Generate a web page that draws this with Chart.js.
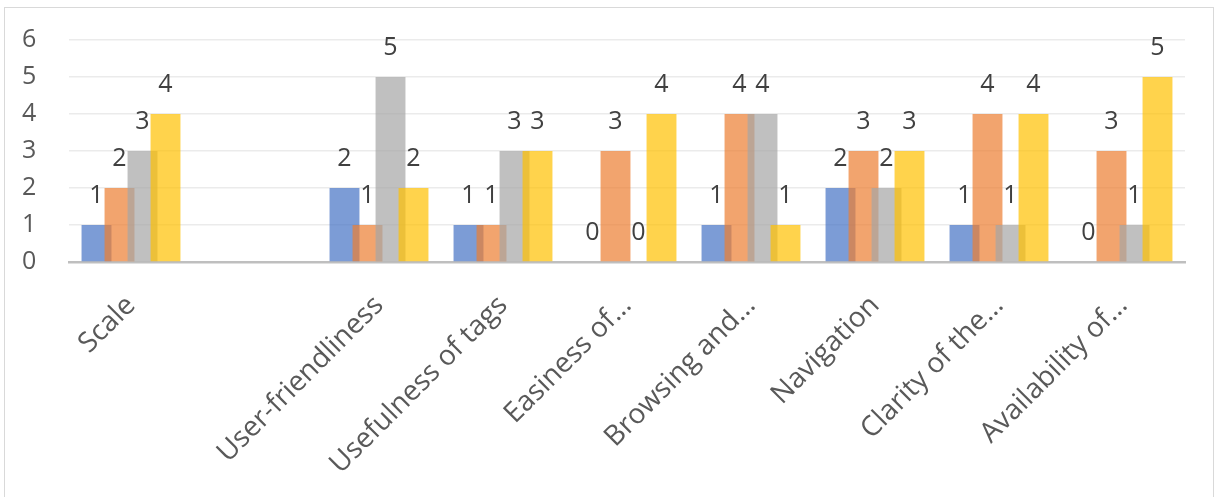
<!DOCTYPE html>
<html>
<head>
<meta charset="utf-8">
<script src="https://cdn.jsdelivr.net/npm/chart.js@4.4.1/dist/chart.umd.min.js"></script>
<style>
    html, body { margin: 0; padding: 0; background: #fff; }
    #wrap { position: relative; width: 1221px; height: 497px; overflow: hidden; }
    #frame { position: absolute; left: 4px; top: 7px; width: 1208px; height: 530px; border: 1.5px solid #d9d9d9; }
    #chartBox { position: absolute; left: 0; top: 0; width: 1221px; height: 497px; }
</style>
</head>
<body>
<div id="wrap">
    <div id="frame"></div>
    <div id="chartBox"><canvas id="barChart"></canvas></div>
</div>
<script>
const categories = ['Scale', '', 'User-friendliness', 'Usefulness of tags', 'Easiness of…', 'Browsing and…', 'Navigation', 'Clarity of the…', 'Availability of…'];
const series1 = [1, null, 2, 1, 0, 1, 2, 1, 0];
const series2 = [2, null, 1, 1, 3, 4, 3, 4, 3];
const series3 = [3, null, 5, 3, 0, 4, 2, 1, 1];
const series4 = [4, null, 2, 3, 4, 1, 3, 4, 5];
const yTicks = [0, 1, 2, 3, 4, 5, 6];

const seriesColors = ['rgba(68,114,196,0.7)', 'rgba(237,125,49,0.7)', 'rgba(165,165,165,0.7)', 'rgba(255,192,0,0.7)'];
const fontFamily = '"Open Sans", "Noto Sans", sans-serif';

// draw series in their own order (later ones on top) and put the value labels above
const orderedBars = {
    id: 'orderedBars',
    beforeDatasetsDraw(chart) {
        const ctx = chart.ctx;
        for (let i = 0; i < chart.data.datasets.length; i++) {
            chart.getDatasetMeta(i).controller.draw();
        }
        ctx.save();
        ctx.font = '25px ' + fontFamily;
        ctx.fillStyle = '#404040';
        ctx.textAlign = 'center';
        ctx.textBaseline = 'middle';
        chart.data.datasets.forEach((ds, i) => {
            chart.getDatasetMeta(i).data.forEach((bar, j) => {
                const v = ds.data[j];
                if (v === null) return;
                ctx.fillText(String(v), bar.x, bar.y - 29);
            });
        });
        ctx.restore();
        return false;
    }
};

const ctx = document.getElementById('barChart').getContext('2d');
new Chart(ctx, {
    type: 'bar',
    data: {
        labels: categories,
        datasets: [
            { label: 'Series1', data: series1, backgroundColor: seriesColors[0] },
            { label: 'Series2', data: series2, backgroundColor: seriesColors[1] },
            { label: 'Series3', data: series3, backgroundColor: seriesColors[2] },
            { label: 'Series4', data: series4, backgroundColor: seriesColors[3] }
        ]
    },
    options: {
        responsive: true,
        maintainAspectRatio: false,
        animation: false,
        categoryPercentage: 0.742,
        barPercentage: 1.3,
        layout: { padding: { top: 40, right: 36, left: 22, bottom: 0 } },
        plugins: {
            legend: { display: false },
            tooltip: { enabled: false }
        },
        scales: {
            y: {
                min: 0,
                max: 6,
                afterFit: (scale) => { scale.width = 47; },
                afterBuildTicks: (scale) => { scale.ticks = yTicks.map(v => ({ value: v })); },
                ticks: {
                    padding: 0,
                    crossAlign: 'far',
                    color: '#595959',
                    font: { family: fontFamily, size: 25 }
                },
                grid: { color: '#ebebeb', lineWidth: 1.5, drawTicks: false },
                border: { display: false }
            },
            x: {
                afterFit: (scale) => { scale.height = 235; },
                ticks: {
                    minRotation: 45,
                    maxRotation: 45,
                    autoSkip: false,
                    padding: 27,
                    color: '#595959',
                    font: { family: fontFamily, size: 28 }
                },
                grid: { display: false, drawTicks: false },
                border: { color: '#bfbfbf', width: 2.5 }
            }
        }
    },
    plugins: [orderedBars]
});
</script>
</body>
</html>
